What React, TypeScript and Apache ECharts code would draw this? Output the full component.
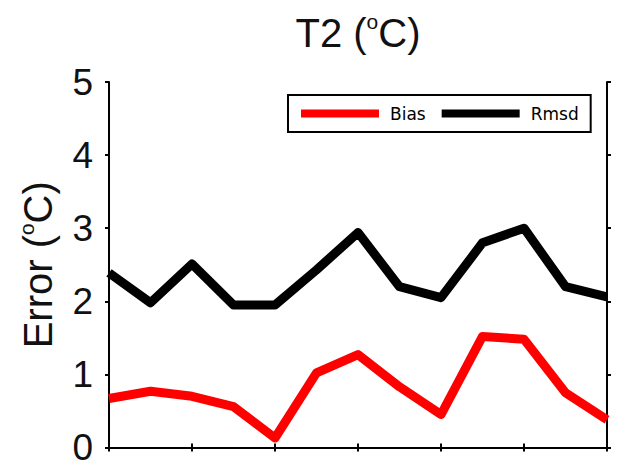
import React, { useEffect, useRef } from 'react';
import * as echarts from 'echarts';

const categories = ['1', '2', '3', '4', '5', '6', '7', '8', '9', '10', '11', '12', '13'];
const biasValues = [0.67, 0.77, 0.7, 0.56, 0.13, 1.02, 1.27, 0.83, 0.45, 1.52, 1.48, 0.75, 0.38];
const rmsdValues = [2.39, 1.98, 2.51, 1.95, 1.95, 2.43, 2.94, 2.2, 2.05, 2.8, 3.0, 2.2, 2.06];
const yMin = 0;
const yMax = 5;
const yStep = 1;
const seriesNames = ['Bias', 'Rmsd'];

const FONT = '"Liberation Sans", Arial, Helvetica, sans-serif';

const richBig = {
  a: { fontSize: 40, lineHeight: 44, fontFamily: FONT, fontWeight: 'normal' as const, color: '#111' },
  s: { fontSize: 21, lineHeight: 24, fontFamily: FONT, fontWeight: 'normal' as const, color: '#111', verticalAlign: 'top' as const },
};

export default function App() {
  const ref = useRef<HTMLDivElement>(null);

  useEffect(() => {
    if (!ref.current) return;
    const chart = echarts.init(ref.current, null, { renderer: 'svg' });
    const axisLine = { show: true, lineStyle: { color: '#000', width: 2 } };
    const xBase = {
      type: 'category' as const,
      data: categories,
      boundaryGap: false,
      axisLine,
      axisTick: { show: true, interval: 1, length: 4, inside: false, lineStyle: { color: '#000', width: 2 } },
      axisLabel: { show: false },
      splitLine: { show: false },
    };
    const yBase = {
      type: 'value' as const,
      min: yMin,
      max: yMax,
      interval: yStep,
      axisLine,
      axisTick: { show: true, length: 4, inside: false, lineStyle: { color: '#000', width: 2 } },
      splitLine: { show: false },
    };
    chart.setOption({
      animation: false,
      backgroundColor: '#fff',
      title: {
        text: '{a|T2 (}{s|o}{a|C)}',
        left: 358,
        top: 11,
        padding: 0,
        textAlign: 'center',
        textStyle: { fontWeight: 'normal', rich: richBig },
      },
      legend: {
        data: seriesNames,
        left: 288,
        top: 95,
        orient: 'horizontal',
        icon: 'rect',
        itemWidth: 78,
        itemHeight: 8,
        itemGap: 16,
        padding: [10, 12, 10, 13],
        backgroundColor: '#fff',
        borderColor: '#000',
        borderWidth: 2,
        borderRadius: 0,
        textStyle: {
          fontFamily: '"DejaVu Sans", sans-serif',
          fontSize: 17,
          color: '#000',
          padding: [0, 0, 0, 6],
        },
      },
      grid: { left: 109, right: 37, top: 82, bottom: 17, containLabel: false },
      xAxis: [
        { ...xBase, position: 'bottom' },
        { ...xBase, position: 'top' },
      ],
      yAxis: [
        {
          ...yBase,
          position: 'left',
          name: '{a|Error (}{s|o}{a|C)}',
          nameLocation: 'middle',
          nameRotate: 90,
          nameGap: 49,
          nameTextStyle: { rich: richBig },
          axisLabel: { show: true, fontSize: 37, fontFamily: FONT, color: '#111', margin: 16 },
        },
        {
          ...yBase,
          position: 'right',
          axisLabel: { show: false },
        },
      ],
      series: [
        {
          name: seriesNames[0],
          type: 'line',
          data: biasValues,
          showSymbol: false,
          symbol: 'none',
          lineStyle: { color: '#ff0000', width: 9, join: 'round' },
          itemStyle: { color: '#ff0000' },
          z: 3,
        },
        {
          name: seriesNames[1],
          type: 'line',
          data: rmsdValues,
          showSymbol: false,
          symbol: 'none',
          lineStyle: { color: '#000', width: 9, join: 'round' },
          itemStyle: { color: '#000' },
          z: 3,
        },
      ],
    });
    return () => chart.dispose();
  }, []);

  return (
    <div
      ref={ref}
      style={{ position: 'absolute', left: 0, top: 0, width: 644, height: 466 }}
    />
  );
}
